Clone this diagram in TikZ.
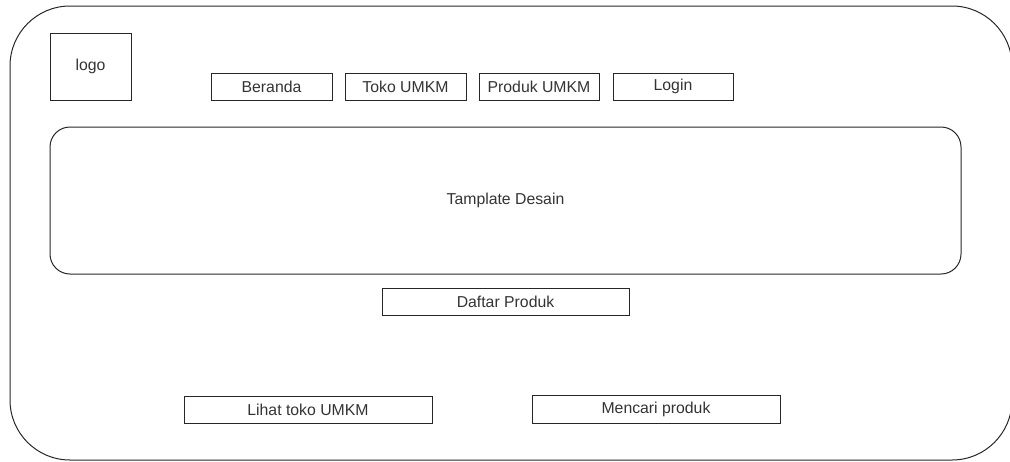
\documentclass[tikz,border=0pt]{standalone}
\usepackage{fontspec}
\setmainfont{Liberation Sans}
\begin{document}
\begin{tikzpicture}[x=1pt,y=-1pt,
  box/.style={draw=black!85, line width=1pt, rectangle, inner sep=0pt, font=\fontsize{15.8}{18}\selectfont, text=black!80},
]
\useasboundingbox (0,0) rectangle (1010,461);
\node[box, rounded corners=60pt, minimum width=1002pt, minimum height=454pt] (frame) at (511,233) {};
\node[box, minimum width=81pt, minimum height=67pt] (logo) at (90.5,66.5) {logo};
\node[box, minimum width=121pt, minimum height=27pt] (beranda) at (271.5,86.5) {Beranda};
\node[box, minimum width=121pt, minimum height=27pt] (toko) at (405.5,86.5) {Toko UMKM};
\node[box, minimum width=120pt, minimum height=27pt] (produk) at (539,86.5) {Produk UMKM};
\node[box, minimum width=120pt, minimum height=27pt] (login) at (673,86.5) {Login};
\node[box, rounded corners=20pt, minimum width=911pt, minimum height=147pt] (template) at (505.5,200.5) {Tamplate Desain};
\node[box, minimum width=247pt, minimum height=27pt] (daftar) at (505.5,301.5) {Daftar Produk};
\node[box, minimum width=248pt, minimum height=27pt] (lihat) at (308,409.5) {Lihat toko UMKM};
\node[box, minimum width=248pt, minimum height=28pt] (cari) at (656,409) {Mencari produk};
\end{tikzpicture}
\end{document}
